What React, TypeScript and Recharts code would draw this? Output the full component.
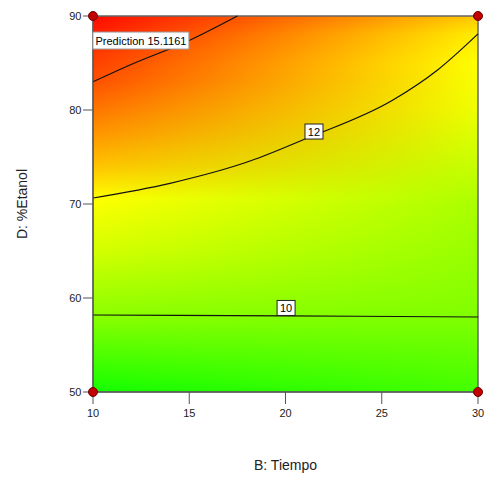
import * as React from "react";
import {
  ComposedChart,
  Line,
  XAxis,
  YAxis,
  ReferenceArea,
  ReferenceDot,
} from "recharts";

const xTicks = [10, 15, 20, 25, 30];
const yTicks = [50, 60, 70, 80, 90];

// contour lines
const contour14 = [
  { b: 10, d: 83.0 },
  { b: 11.92, d: 84.79 },
  { b: 15, d: 87.4 },
  { b: 17.5, d: 90 },
];
const contour12 = [
  { b: 10, d: 70.64 },
  { b: 14, d: 72.2 },
  { b: 18.16, d: 74.57 },
  { b: 21.01, d: 76.91 },
  { b: 25.58, d: 81.06 },
  { b: 27.9, d: 84.26 },
  { b: 30, d: 88.1 },
];
const contour10 = [
  { b: 10, d: 58.19 },
  { b: 20, d: 58.1 },
  { b: 30, d: 57.98 },
];

const designPoints = [
  { b: 10, d: 50 },
  { b: 10, d: 90 },
  { b: 30, d: 50 },
  { b: 30, d: 90 },
];

const contourLabels = [
  { b: 21.48, d: 77.71, text: "12" },
  { b: 20.03, d: 58.94, text: "10" },
];
const prediction = { b: 12.49, d: 87.39, text: "Prediction  15.1161" };

// colour stops down the left and right edge (offset 0 = top)
const leftStops = [
  [0, "#ff0a00"],
  [0.1, "#ff3800"],
  [0.175, "#ff5200"],
  [0.31, "#ff9400"],
  [0.4, "#ffc400"],
  [0.485, "#ffff00"],
  [0.625, "#d4ff00"],
  [0.795, "#8cff00"],
  [1, "#14ff00"],
];
const rightStops = [
  [0, "#ffc800"],
  [0.05, "#ffee00"],
  [0.125, "#ffff00"],
  [0.25, "#eeff00"],
  [0.5, "#aaff00"],
  [0.8, "#80ff00"],
  [1, "#44ff00"],
];

const font = "'Liberation Sans', Arial, sans-serif";

const Surface = (props: any) => {
  const { x, y, width, height } = props;
  return (
    <g>
      <defs>
        <linearGradient id="leftGrad" x1="0" y1="0" x2="0" y2="1">
          {leftStops.map(([o, c]) => (
            <stop key={String(o)} offset={o as number} stopColor={c as string} />
          ))}
        </linearGradient>
        <linearGradient id="rightGrad" x1="0" y1="0" x2="0" y2="1">
          {rightStops.map(([o, c]) => (
            <stop key={String(o)} offset={o as number} stopColor={c as string} />
          ))}
        </linearGradient>
        <linearGradient id="blend" x1="0" y1="0" x2="1" y2="0">
          <stop offset={0} stopColor="#000" />
          <stop offset={1} stopColor="#fff" />
        </linearGradient>
        <mask id="rightMask">
          <rect x={x} y={y} width={width} height={height} fill="url(#blend)" />
        </mask>
      </defs>
      <rect x={x} y={y} width={width} height={height} fill="url(#leftGrad)" />
      <rect x={x} y={y} width={width} height={height} fill="url(#rightGrad)" mask="url(#rightMask)" />
      <rect x={x} y={y} width={width} height={height} fill="none" stroke="#666" strokeWidth={1.5} />
    </g>
  );
};

const boxLabel = (text: string, w: number, h: number, stroke: string) => (props: any) => {
  const { cx, cy } = props;
  return (
    <g>
      <rect x={cx - w / 2} y={cy - h / 2} width={w} height={h} fill="#fff" stroke={stroke} strokeWidth={1} />
      <text x={cx} y={cy + 4} textAnchor="middle" fontFamily={font} fontSize={11} fill="#000">
        {text}
      </text>
    </g>
  );
};

const DesignDot = (props: any) => {
  const { cx, cy } = props;
  return <circle cx={cx} cy={cy} r={4.5} fill="#c00000" stroke="#700000" strokeWidth={1} />;
};

export default function App() {
  return (
    <div style={{ position: "fixed", left: 0, top: 0, width: 484, height: 477, overflow: "hidden", background: "#fff" }}>
      <ComposedChart
        width={484}
        height={477}
        margin={{ top: 16, right: 6, bottom: 0, left: 0 }}
        style={{ fontFamily: font }}
      >
        <XAxis
          dataKey="b"
          type="number"
          domain={[10, 30]}
          ticks={xTicks}
          height={85}
          tickSize={12}
          tickMargin={5}
          stroke="#555"
          tick={{ fill: "#222", fontSize: 11 }}
          label={{
            content: (p: any) => (
              <text
                x={p.viewBox.x + p.viewBox.width / 2}
                y={p.viewBox.y + 78}
                textAnchor="middle"
                fontFamily={font}
                fontSize={14}
                fill="#222"
              >
                B: Tiempo
              </text>
            ),
          }}
        />
        <YAxis
          dataKey="d"
          type="number"
          domain={[50, 90]}
          ticks={yTicks}
          width={93}
          tickSize={10}
          tickMargin={1.5}
          stroke="#555"
          tick={{ fill: "#222", fontSize: 11 }}
          label={{
            content: (p: any) => {
              const cx = 27;
              const cy = p.viewBox.y + p.viewBox.height / 2;
              return (
                <text
                  x={cx}
                  y={cy}
                  transform={`rotate(-90 ${cx} ${cy})`}
                  textAnchor="middle"
                  fontFamily={font}
                  fontSize={14}
                  fill="#222"
                >
                  D: %Etanol
                </text>
              );
            },
          }}
        />
        <ReferenceArea x1={10} x2={30} y1={50} y2={90} shape={Surface} ifOverflow="visible" />
        <Line data={contour14} dataKey="d" type="monotone" stroke="#111" strokeWidth={1.2} dot={false} isAnimationActive={false} />
        <Line data={contour12} dataKey="d" type="monotone" stroke="#111" strokeWidth={1.2} dot={false} isAnimationActive={false} />
        <Line data={contour10} dataKey="d" type="monotone" stroke="#111" strokeWidth={1.2} dot={false} isAnimationActive={false} />
        {contourLabels.map((l) => (
          <ReferenceDot key={l.text} x={l.b} y={l.d} shape={boxLabel(l.text, 18, 15, "#222")} />
        ))}
        <ReferenceDot x={prediction.b} y={prediction.d} shape={boxLabel(prediction.text, 96, 17, "#999")} />
        {designPoints.map((p, i) => (
          <ReferenceDot key={i} x={p.b} y={p.d} shape={DesignDot} ifOverflow="visible" />
        ))}
      </ComposedChart>
    </div>
  );
}
